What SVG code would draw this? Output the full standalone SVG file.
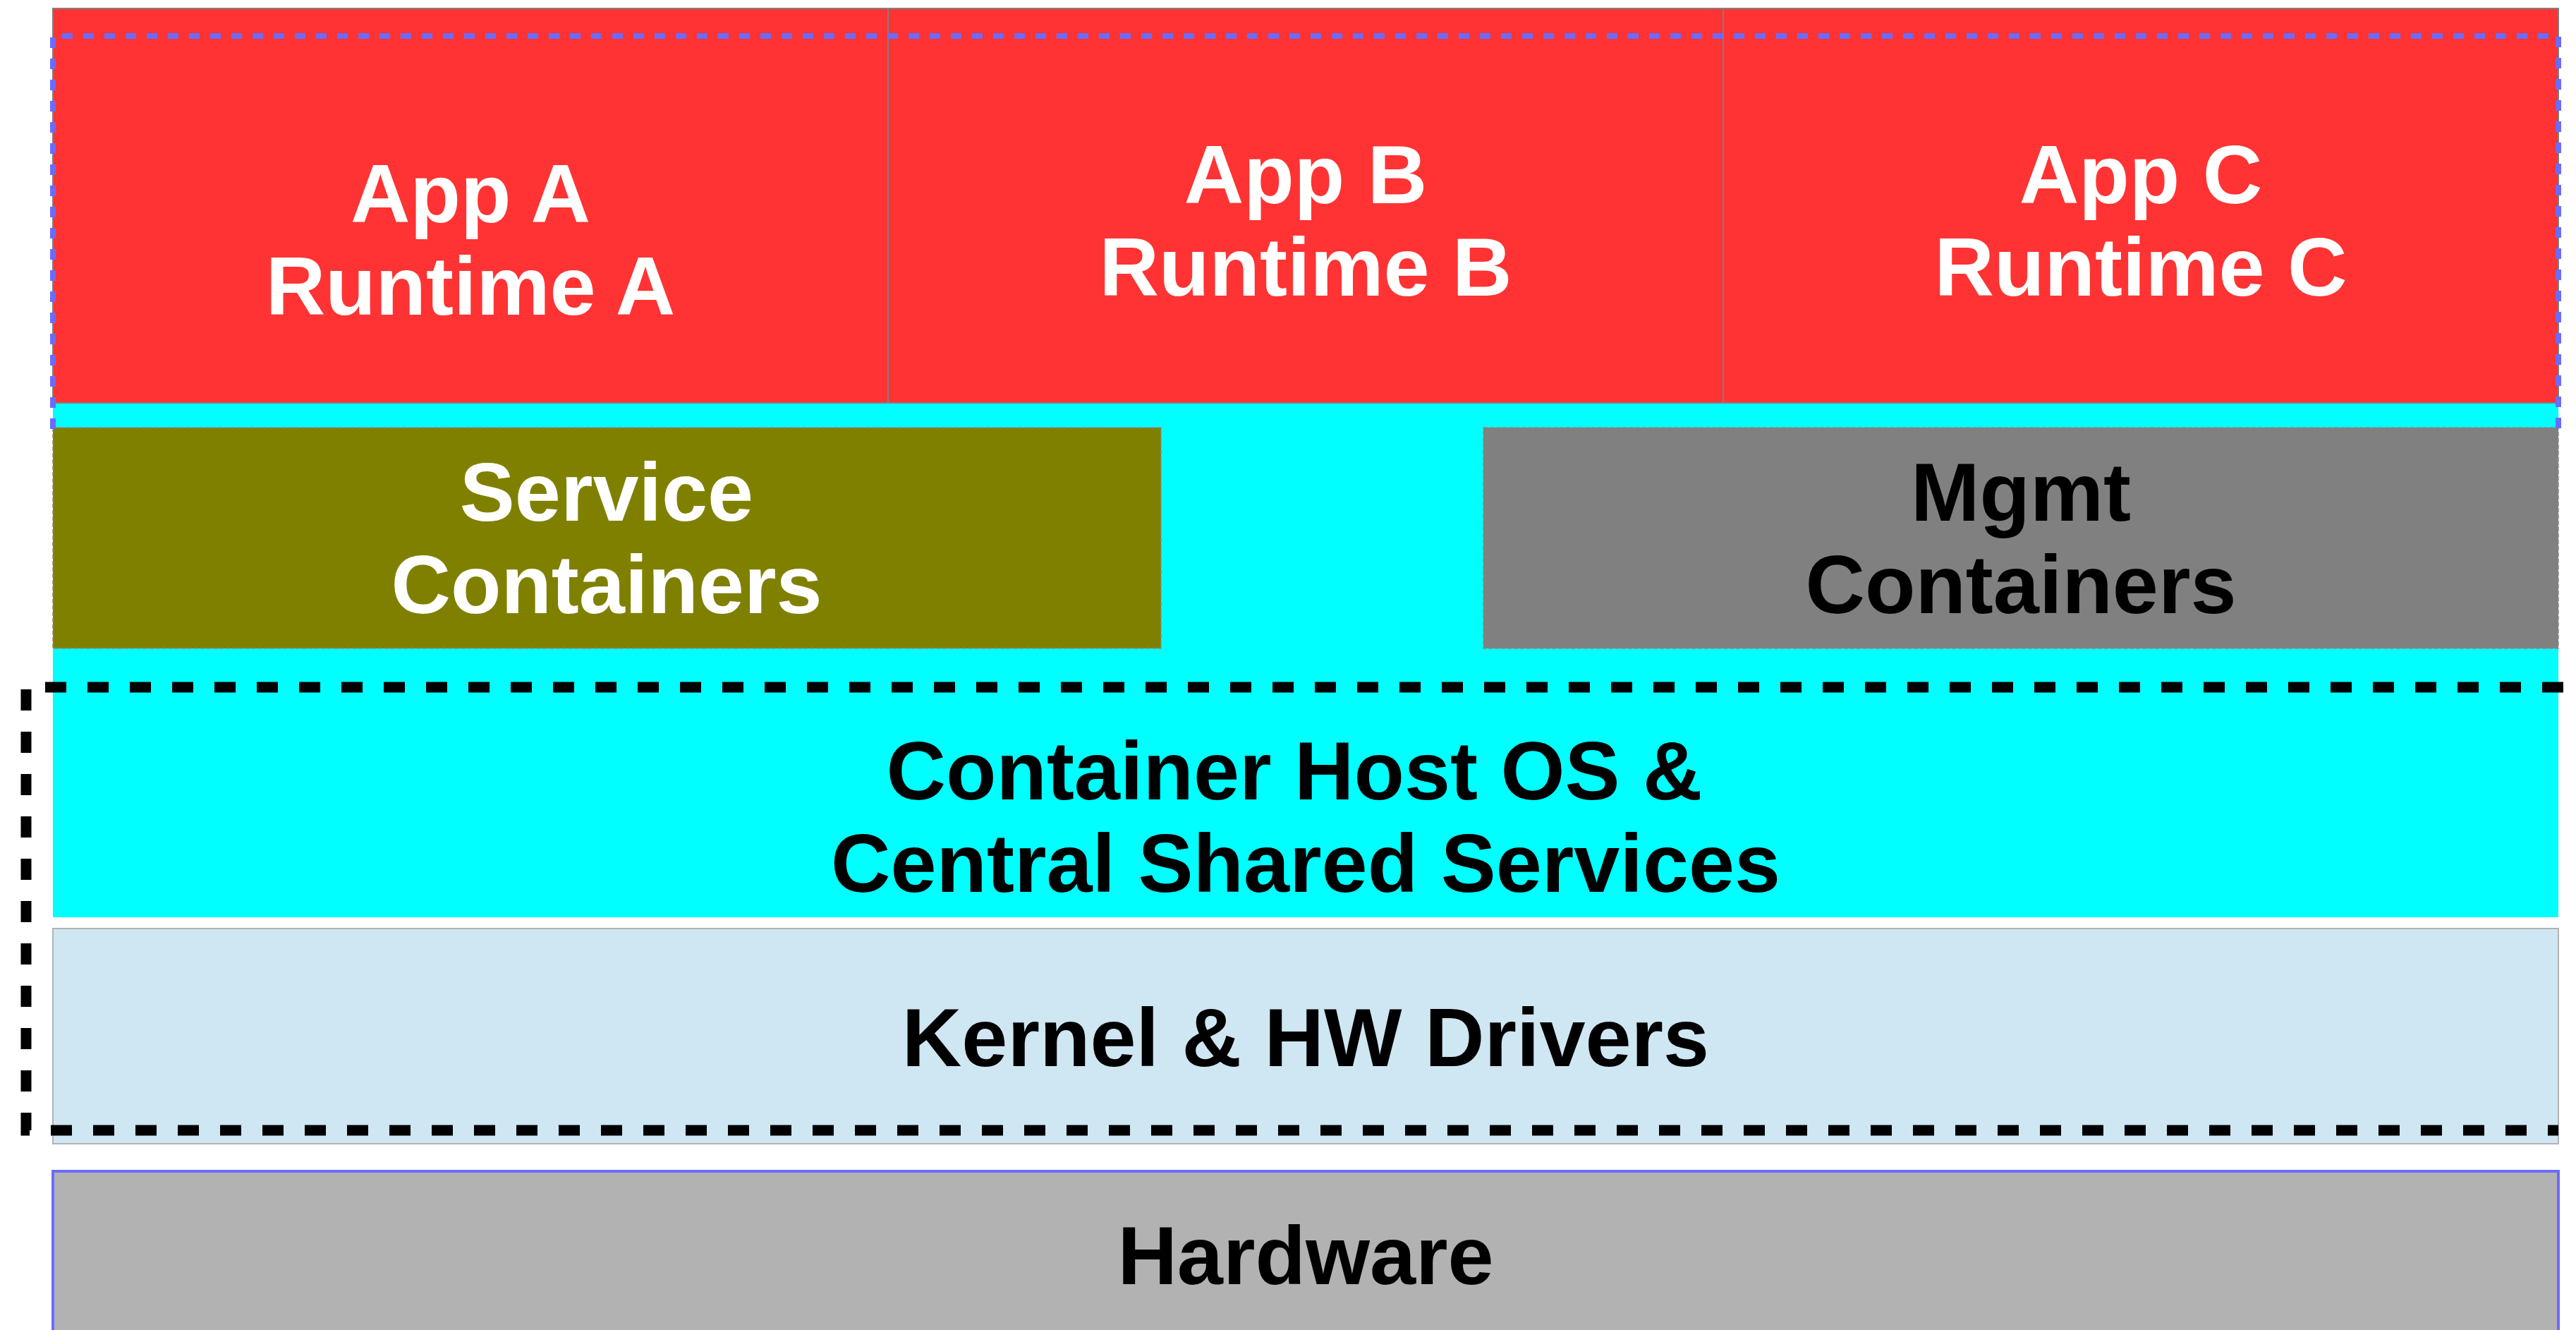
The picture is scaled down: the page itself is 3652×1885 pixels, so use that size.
<svg xmlns="http://www.w3.org/2000/svg" width="3652" height="1885" viewBox="0 0 3652 1885">
  <style>
    .lbl { font-family: "Liberation Sans", Arial, sans-serif; font-weight: bold; font-size: 117px; text-anchor: middle; }
    .w { fill: #ffffff; }
    .k { fill: #000000; }
    .app { fill: #ff3333; stroke: #808080; stroke-width: 2; }
    .ctr { stroke: #8a8a8a; stroke-width: 1.5; stroke-dasharray: 6 3; }
  </style>

  <rect x="0" y="0" width="3652" height="1885" fill="#ffffff"/>

  <!-- host OS layer, sits behind the container boxes -->
  <g id="host-os">
    <rect x="75" y="571" width="3552" height="729" fill="#00ffff"/>
    <text class="lbl k" x="1835" y="1133">Container Host OS &amp;</text>
    <text class="lbl k" x="1851" y="1264">Central Shared Services</text>
  </g>

  <!-- application runtimes -->
  <g id="app-a">
    <rect class="app" x="75" y="12" width="1184" height="559"/>
    <text class="lbl w" x="667" y="315">App A</text>
    <text class="lbl w" x="667" y="446">Runtime A</text>
  </g>
  <g id="app-b">
    <rect class="app" x="1259" y="12" width="1184" height="559"/>
    <text class="lbl w" x="1851" y="288">App B</text>
    <text class="lbl w" x="1851" y="419">Runtime B</text>
  </g>
  <g id="app-c">
    <rect class="app" x="2443" y="12" width="1184" height="559"/>
    <text class="lbl w" x="3035" y="288">App C</text>
    <text class="lbl w" x="3035" y="419">Runtime C</text>
  </g>

  <g id="service-containers">
    <rect class="ctr" x="75" y="606" width="1571" height="313" fill="#808000"/>
    <text class="lbl w" x="860" y="738">Service</text>
    <text class="lbl w" x="860" y="869">Containers</text>
  </g>

  <g id="mgmt-containers">
    <rect class="ctr" x="2103" y="606" width="1524" height="313" fill="#808080"/>
    <text class="lbl k" x="2865" y="738">Mgmt</text>
    <text class="lbl k" x="2865" y="869">Containers</text>
  </g>

  <g id="kernel">
    <rect x="75" y="1316" width="3552" height="305" fill="#cfe6f3" stroke="#b3b3b3" stroke-width="2"/>
    <text class="lbl k" x="1851" y="1511">Kernel &amp; HW Drivers</text>
  </g>

  <g id="hardware">
    <rect x="75" y="1660" width="3552" height="240" fill="#b2b2b2" stroke="#6b6bff" stroke-width="4"/>
    <text class="lbl k" x="1851" y="1820">Hardware</text>
  </g>

  <!-- boundary outlines -->
  <g id="boundaries" fill="none">
    <path d="M75 608 V51 H3627 V608" stroke="#6b6bff" stroke-width="8" stroke-dasharray="15 15"/>
    <path d="M3634 974 H37 V1602 H3627" stroke="#000000" stroke-width="15" stroke-dasharray="30 30"/>
  </g>
</svg>
